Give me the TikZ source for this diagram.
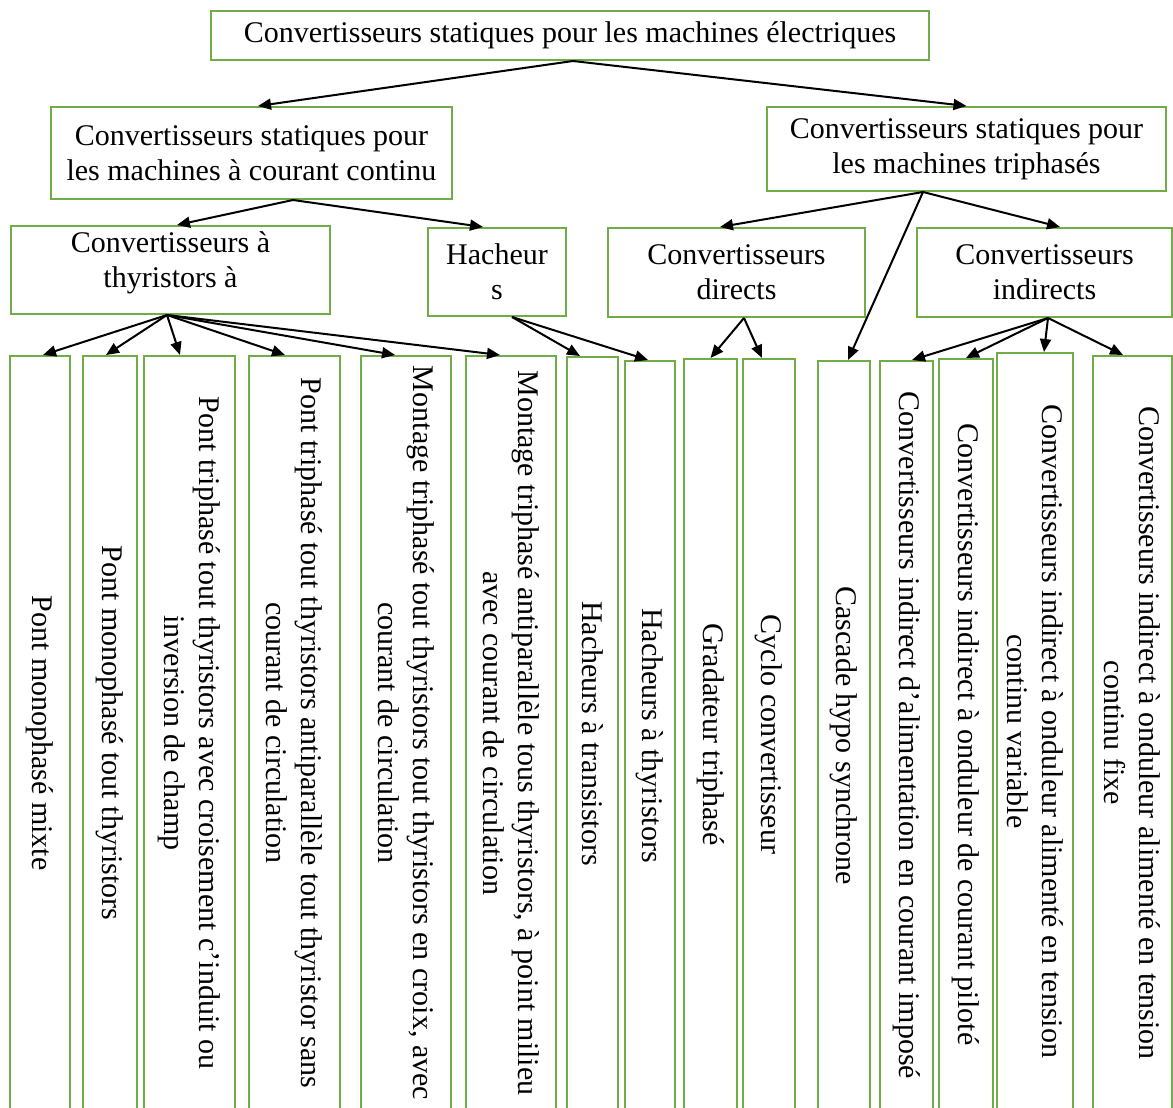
\documentclass[tikz,border=0pt]{standalone}
\usepackage{fontspec}
\setmainfont{Liberation Serif}
\usetikzlibrary{arrows.meta}
\definecolor{boxgreen}{RGB}{112,173,71}
\newcommand\leafbox[5]{%
  \node[leaf, minimum width={1110pt-#4pt}, minimum height={#3pt-#2pt}] (#1) at ({(#2+#3)/2},{(#4+1110)/2}) {#5};%
}
\begin{document}
\begin{tikzpicture}[x=1pt, y=-1pt,
  font=\fontsize{30pt}{35pt}\selectfont,
  box/.style={draw=boxgreen, line width=2pt, inner sep=0pt, align=center},
  leaf/.style={box, rotate=-90},
  arr/.style={line width=2pt, -{Triangle[length=13pt,width=11pt]}}]
\useasboundingbox (0,0) rectangle (1173,1108);
\fill[white] (0,0) rectangle (1173,1108);
\clip (0,0) rectangle (1173,1108);

% top levels
\node[box, minimum width=718pt, minimum height=49pt] (root) at (570,35.5) {Convertisseurs statiques pour les machines électriques};
\node[box, minimum width=401pt, minimum height=92pt] (dc) at (251.5,153) {Convertisseurs statiques pour\\les machines à courant continu};
\node[box, minimum width=399pt, minimum height=84pt] (ac) at (966.5,149) {Convertisseurs statiques pour\\les machines triphasés};
\node[box, minimum width=319pt, minimum height=88pt] (thy) at (170.5,270) {};
\node[align=center, inner sep=0pt] (thytxt) at (170.5,263) {Convertisseurs à\\thyristors à};
\node[box, minimum width=138pt, minimum height=88pt] (hach) at (497,272) {Hacheur\\s};
\node[box, minimum width=257pt, minimum height=89pt] (dir) at (736.5,272.5) {Convertisseurs\\directs};
\node[box, minimum width=255pt, minimum height=89pt] (ind) at (1044.5,272.5) {Convertisseurs\\indirects};

% leaves
\leafbox{l1}{10}{70}{356}{Pont monophasé mixte}
\leafbox{l2}{83}{137}{356}{Pont monophasé tout thyristors}
\leafbox{l3}{144}{235}{356}{Pont triphasé tout thyristors avec croisement c’induit ou\\inversion de champ}
\leafbox{l4}{249}{340}{356}{Pont triphasé tout thyristors antiparallèle tout thyristor sans\\courant de circulation}
\leafbox{l5}{361}{451}{356}{Montage triphasé tout thyristors tout thyristors en croix, avec\\courant de circulation}
\leafbox{l6}{466}{556}{356}{Montage triphasé antiparallèle tous thyristors, à point milieu\\avec courant de circulation}
\leafbox{l7}{567}{618}{357}{Hacheurs à transistors}
\leafbox{l8}{625}{675}{361}{Hacheurs à thyristors}
\leafbox{l9}{684}{737}{359}{Gradateur triphasé}
\leafbox{l10}{743}{795}{359}{Cyclo convertisseur}
\leafbox{l11}{818}{870}{361}{Cascade hypo synchrone}
\leafbox{l12}{880}{933}{361}{Convertisseurs indirect d’alimentation en courant imposé}
\leafbox{l13}{939}{993}{359}{Convertisseurs indirect à onduleur de courant piloté}
\leafbox{l14}{997}{1073}{353}{Convertisseurs indirect à onduleur alimenté en tension\\continu variable}
\leafbox{l15}{1093}{1172}{356}{Convertisseurs indirect à onduleur alimenté en tension\\continu fixe}

% connectors
\draw[arr] ([xshift=3pt]root.south) -- ([xshift=6.5pt]dc.north);
\draw[arr] ([xshift=3pt]root.south) -- (ac.north);
\draw[arr] ([xshift=41.5pt]dc.south) -- ([xshift=6.5pt]thy.north);
\draw[arr] ([xshift=41.5pt]dc.south) -- ([xshift=-14pt]hach.north);
\draw[arr] ([xshift=-43.5pt]ac.south) -- ([xshift=-16.5pt]dir.north);
\draw[arr] ([xshift=-43.5pt]ac.south) -- ([xshift=15.5pt]ind.north);
\draw[arr] ([xshift=-43.5pt]ac.south) -- ([xshift=4pt]l11.west);

\draw[arr] ([xshift=-3.5pt]thy.south) -- ([xshift=3pt]l1.west);
\draw[arr] ([xshift=-3.5pt]thy.south) -- ([xshift=-4pt]l2.west);
\draw[arr] ([xshift=-3.5pt]thy.south) -- ([xshift=-9.5pt]l3.west);
\draw[arr] ([xshift=-3.5pt]thy.south) -- ([xshift=-9.5pt]l4.west);
\draw[arr] ([xshift=-3.5pt]thy.south) -- ([xshift=-11pt]l5.west);
\draw[arr] ([xshift=-3.5pt]thy.south) -- ([xshift=-11pt]l6.west);

\draw[arr] ([xshift=15pt]hach.south) -- ([xshift=-12.5pt]l7.west);
\draw[arr] ([xshift=15pt]hach.south) -- ([xshift=-2pt]l8.west);

\draw[arr] ([xshift=7.5pt]dir.south) -- (l9.west);
\draw[arr] ([xshift=7.5pt]dir.south) -- ([xshift=-7pt]l10.west);

\draw[arr] ([xshift=3.5pt]ind.south) -- ([xshift=5.5pt]l12.west);
\draw[arr] ([xshift=3.5pt]ind.south) -- (l13.west);
\draw[arr] ([xshift=3.5pt]ind.south) -- ([xshift=9pt]l14.west);
\draw[arr] ([xshift=3.5pt]ind.south) -- ([xshift=-9.5pt]l15.west);
\end{tikzpicture}
\end{document}
